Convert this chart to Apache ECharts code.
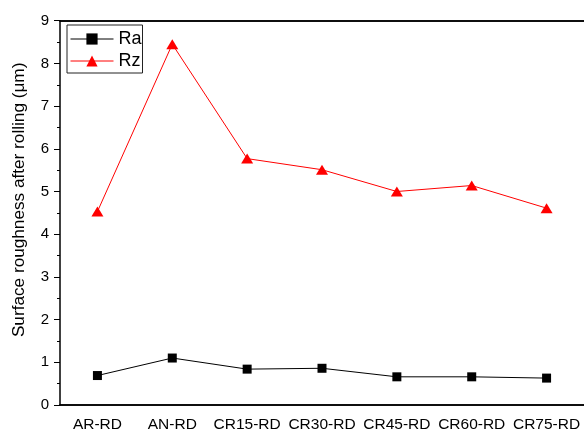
<!DOCTYPE html>
<html><head><meta charset="utf-8">
<script src="https://cdn.jsdelivr.net/npm/echarts@6/dist/echarts.min.js"></script>
<style>html,body{margin:0;padding:0;background:#fff}#c{width:584px;height:433px}</style>
</head><body><div id="c"></div>
<script>
const categories = ['AR-RD','AN-RD','CR15-RD','CR30-RD','CR45-RD','CR60-RD','CR75-RD'];
const raValues = [0.69, 1.10, 0.84, 0.86, 0.66, 0.66, 0.63];
const rzValues = [4.53, 8.45, 5.77, 5.51, 5.00, 5.14, 4.61];
const yTicks = [0,1,2,3,4,5,6,7,8,9];
const yTitle = 'Surface roughness after rolling (\u03bcm)';

const font = 'Liberation Sans, Arial, sans-serif';
const chart = echarts.init(document.getElementById('c'), null, {renderer:'canvas'});
const catAxis = (extra) => Object.assign({
  type:'category', data: categories, boundaryGap:true,
  axisLine:{show:true, lineStyle:{color:'#000', width:1.5}},
  axisLabel:{show:false}, splitLine:{show:false}
}, extra);
chart.setOption({
  animation:false,
  grid:{left:60, top:20.7, width:529, bottom:26.3, containLabel:false},
  legend:{
    orient:'vertical', left:67, top:25, padding:[5,1,3,3],
    borderColor:'#222', borderWidth:1, itemGap:4,
    itemWidth:43, itemHeight:14,
    lineStyle:{width:1},
    textStyle:{fontFamily:font, fontSize:18, color:'#000'},
    data:['Ra','Rz']
  },
  xAxis:[
    catAxis({position:'bottom', axisTick:{alignWithLabel:true, length:6, lineStyle:{color:'#000'}},
      axisLabel:{show:true, margin:12, fontFamily:font, fontSize:15.5, color:'#000', interval:0}}),
    catAxis({position:'bottom', axisTick:{length:3, lineStyle:{color:'#000'}}}),
    catAxis({position:'top', axisTick:{inside:true, alignWithLabel:true, length:3, lineStyle:{color:'#000'}}}),
    catAxis({position:'top', axisTick:{inside:true, length:3, lineStyle:{color:'#000'}}})
  ],
  yAxis:{
    type:'value', min:yTicks[0], max:yTicks[yTicks.length-1], interval:1,
    name:yTitle, nameLocation:'middle', nameGap:32, nameRotate:90,
    nameTextStyle:{fontFamily:font, fontSize:17.2, color:'#000', padding:[0,0,0,26]},
    axisLine:{show:true, lineStyle:{color:'#000', width:1.5}},
    axisTick:{show:true, length:6, lineStyle:{color:'#000'}},
    minorTick:{show:true, splitNumber:2, length:3, lineStyle:{color:'#000'}},
    axisLabel:{margin:11, fontFamily:font, fontSize:15, color:'#000'},
    splitLine:{show:false}
  },
  series:[
    {name:'Ra', type:'line', data:raValues, xAxisIndex:0, symbol:'rect', symbolSize:9,
      itemStyle:{color:'#000'}, lineStyle:{color:'#000', width:1}},
    {name:'Rz', type:'line', data:rzValues, xAxisIndex:0, symbol:'triangle', symbolSize:[12,10],
      itemStyle:{color:'#ff0000'}, lineStyle:{color:'#ff0000', width:1}}
  ]
});
</script></body></html>
